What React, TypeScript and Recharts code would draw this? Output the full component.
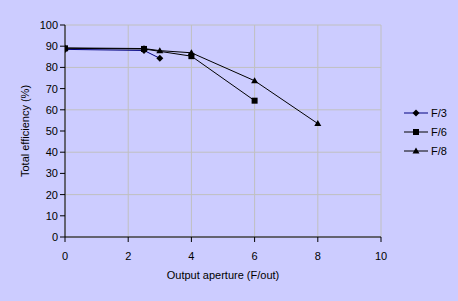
import React from 'react'
import { LineChart, Line, XAxis, YAxis, CartesianGrid, Legend, Label } from 'recharts'

// series (x = output aperture, y = total efficiency %)
const f3X = [0, 2.5, 3]
const f3Y = [88.5, 88, 84.3]
const f6X = [0, 2.5, 4, 6]
const f6Y = [89, 88.7, 85.3, 64.3]
const f8X = [0, 2.5, 3, 4, 6, 8]
const f8Y = [89.2, 88.9, 87.9, 86.9, 73.7, 53.5]

const xTicks = [0, 2, 4, 6, 8, 10]
const yTicks = [0, 10, 20, 30, 40, 50, 60, 70, 80, 90, 100]

const BG = '#CCCCFF'
const FONT = '"Liberation Sans", Arial, sans-serif'

const toPoints = (xs: number[], ys: number[]) => xs.map((x, i) => ({ x, y: ys[i] }))

const f3 = toPoints(f3X, f3Y)
const f6 = toPoints(f6X, f6Y)
const f8 = toPoints(f8X, f8Y)

type Shape = 'diamond' | 'square' | 'triangle'

function markerPath(shape: Shape, cx: number, cy: number): string {
  if (shape === 'diamond') return `M${cx},${cy - 3.5}L${cx + 3.5},${cy}L${cx},${cy + 3.5}L${cx - 3.5},${cy}Z`
  if (shape === 'square') return `M${cx - 3},${cy - 3}h6v6h-6Z`
  return `M${cx},${cy - 3.5}L${cx + 3.5},${cy + 2.5}L${cx - 3.5},${cy + 2.5}Z`
}

function makeDot(shape: Shape, color: string) {
  return (props: any) => {
    const { cx, cy, index } = props
    if (cx == null || cy == null) return <g key={`n-${index}`} />
    return <path key={`${shape}-${index}`} d={markerPath(shape, cx, cy)} fill={color} stroke="none" />
  }
}

const legendItems: { name: string; color: string; shape: Shape }[] = [
  { name: 'F/3', color: '#000080', shape: 'diamond' },
  { name: 'F/6', color: '#000000', shape: 'square' },
  { name: 'F/8', color: '#000000', shape: 'triangle' },
]

function LegendBox() {
  return (
    <div style={{ fontFamily: FONT, fontSize: 11 }}>
      {legendItems.map(it => (
        <div key={it.name} style={{ display: 'flex', alignItems: 'center', height: 19 }}>
          <svg width={24} height={10} style={{ marginRight: 3 }}>
            <line x1={0} y1={5} x2={24} y2={5} stroke={it.color} strokeWidth={1} />
            <path d={markerPath(it.shape, 12, 5)} fill="#000" />
          </svg>
          <span>{it.name}</span>
        </div>
      ))}
    </div>
  )
}

function YTitle(props: any) {
  const vb = props.viewBox || {}
  const cx = 25
  const cy = vb.y + vb.height / 2
  return (
    <text x={cx} y={cy} transform={`rotate(-90 ${cx} ${cy})`} textAnchor="middle"
      dominantBaseline="central" fontFamily={FONT} fontSize={11} fill="#000">
      Total efficiency (%)
    </text>
  )
}

export default function App() {
  return (
    <div style={{ position: 'absolute', left: 0, top: 0, width: 458, height: 301, background: BG }}>
      <LineChart width={458} height={301} margin={{ top: 25, right: 77, bottom: 34, left: 5 }}>
        <CartesianGrid stroke="#C0C0C0" fill={BG} verticalValues={xTicks} horizontalValues={yTicks} />
        <XAxis
          type="number" dataKey="x" domain={[0, 10]} ticks={xTicks} height={30}
          axisLine={{ stroke: '#000' }} tickLine={{ stroke: '#000' }} tickSize={5} tickMargin={10}
          tick={{ fill: '#000', fontSize: 11, fontFamily: FONT }} allowDataOverflow
        >
          <Label value="Output aperture (F/out)" position="bottom" offset={4}
            style={{ fill: '#000', fontSize: 11, fontFamily: FONT }} />
        </XAxis>
        <YAxis
          type="number" dataKey="y" domain={[0, 100]} ticks={yTicks} width={60}
          axisLine={{ stroke: '#000' }} tickLine={{ stroke: '#000' }} tickSize={5}
          tick={{ fill: '#000', fontSize: 11, fontFamily: FONT }} allowDataOverflow
        >
          <Label content={<YTitle />} />
        </YAxis>
        <Legend
          layout="vertical" align="center" verticalAlign="middle"
          content={() => <LegendBox />}
          wrapperStyle={{ left: 404, top: 103, width: 54 }}
        />
        <Line data={f3} dataKey="y" name="F/3" stroke="#000080" strokeWidth={1}
          dot={makeDot('diamond', '#000000')} isAnimationActive={false} />
        <Line data={f6} dataKey="y" name="F/6" stroke="#000000" strokeWidth={1}
          dot={makeDot('square', '#000000')} isAnimationActive={false} />
        <Line data={f8} dataKey="y" name="F/8" stroke="#000000" strokeWidth={1}
          dot={makeDot('triangle', '#000000')} isAnimationActive={false} />
      </LineChart>
    </div>
  )
}
